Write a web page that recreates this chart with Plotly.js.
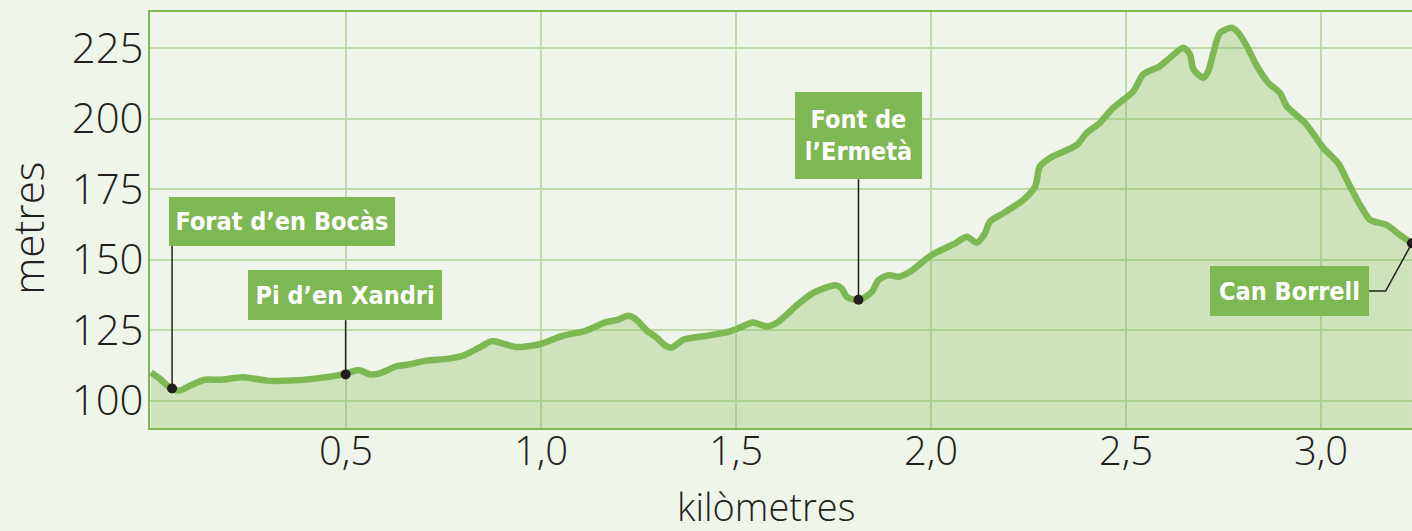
<!DOCTYPE html>
<html>
<head>
<meta charset="utf-8">
<script src="https://cdn.plot.ly/plotly-3.0.1.min.js"></script>
<style>
  html, body { margin: 0; padding: 0; background: #EFF5EA; }
  #chart { width: 1412px; height: 531px; }
</style>
</head>
<body>
<div id="chart"></div>
<script>
// Elevation profile (distance in km, elevation in metres)
const distanceKm = [0, 0.023, 0.053, 0.074, 0.100, 0.138, 0.177, 0.237, 0.297, 0.356, 0.425, 0.499,
  0.532, 0.562, 0.587, 0.630, 0.656, 0.707, 0.758, 0.801, 0.844, 0.874, 0.903, 0.938, 0.997,
  1.053, 1.113, 1.168, 1.198, 1.222, 1.241, 1.271, 1.297, 1.318, 1.335, 1.365, 1.425, 1.485,
  1.510, 1.543, 1.579, 1.608, 1.656, 1.698, 1.754, 1.771, 1.784, 1.814, 1.848, 1.865, 1.891,
  1.916, 1.946, 2.000, 2.062, 2.092, 2.117, 2.138, 2.151, 2.185, 2.237, 2.267, 2.279, 2.305,
  2.374, 2.399, 2.433, 2.467, 2.519, 2.544, 2.587, 2.613, 2.647, 2.664, 2.673, 2.698, 2.711,
  2.724, 2.741, 2.771, 2.788, 2.814, 2.831, 2.865, 2.895, 2.912, 2.959, 2.985, 3.006, 3.044,
  3.066, 3.100, 3.126, 3.168, 3.203, 3.233];
const elevationM = [110.0, 107.7, 104.2, 103.6, 105.3, 107.4, 107.4, 108.3, 107.1, 107.1, 107.9, 109.5,
  110.9, 109.3, 109.7, 112.2, 112.7, 114.2, 114.8, 116.0, 119.0, 121.1, 120.2, 119.0, 120.0,
  122.9, 124.7, 127.9, 128.7, 130.1, 129.1, 124.9, 122.3, 119.6, 118.8, 121.6, 123.0, 124.6,
  125.9, 127.7, 126.3, 127.9, 133.8, 138.2, 140.9, 139.8, 136.8, 135.6, 138.5, 142.7, 144.5,
  143.9, 145.7, 151.5, 155.8, 158.1, 156.0, 159.3, 163.5, 166.4, 171.2, 175.9, 183.0, 186.0,
  190.7, 194.9, 198.5, 203.8, 209.7, 215.7, 218.6, 221.6, 225.1, 222.8, 217.4, 214.5, 216.8,
  223.4, 230.4, 232.2, 230.4, 224.6, 219.8, 212.7, 209.1, 204.4, 198.5, 193.7, 189.6, 184.2,
  178.3, 169.4, 164.1, 162.3, 158.7, 155.8];

// Points of interest
const poiNames = ["Forat d\u2019en Bocàs", "Pi d\u2019en Xandri", "Font de<br>l\u2019Ermetà", "Can Borrell"];
const poiKm = [0.054, 0.499, 1.814, 3.233];
const poiElev = [104.3, 109.3, 135.8, 155.8];

// Tick values
const xTicks = [0.5, 1.0, 1.5, 2.0, 2.5, 3.0];
const yTicks = [100, 125, 150, 175, 200, 225];

const xTitle = 'kilòmetres';
const yTitle = 'metres';

const GREEN = '#7DB853';
const INK = '#231F20';

// Label box layout (position of box in data units, size in px)
const boxLayout = [
  {x: 0.046, y: 154.8, w: 226, h: 49},
  {x: 0.249, y: 128.5, w: 194, h: 50},
  {x: 1.651, y: 178.5, w: 127, h: 87},
  {x: 2.715, y: 130.0, w: 159, h: 50}
];

// Pick an installed narrow bold font for the labels
function hasFont(fam) {
  const c = document.createElement('canvas').getContext('2d');
  const test = 'Forat d\u2019en Bocàs WMmwil10';
  for (const base of ['monospace', 'serif']) {
    c.font = 'bold 40px ' + base;
    const w0 = c.measureText(test).width;
    c.font = 'bold 40px "' + fam + '", ' + base;
    const w1 = c.measureText(test).width;
    if (Math.abs(w0 - w1) > 0.5) return true;
  }
  return false;
}
const candidates = ['Liberation Sans Narrow', 'Arial Narrow', 'DejaVu Sans Condensed',
  'Roboto Condensed', 'Noto Sans Condensed', 'Open Sans Condensed', 'Roboto', 'Liberation Sans'];
let labelFam = 'sans-serif';
for (const f of candidates) { if (hasFont(f)) { labelFam = f; break; } }
const ctx = document.createElement('canvas').getContext('2d');
ctx.font = 'bold 40px "' + labelFam + '", sans-serif';
const refW = ctx.measureText('Forat d\u2019en Bocàs').width;
const labelSize = Math.min(38, Math.floor(40 * 214 / refW));

const traces = [
  {
    x: distanceKm, y: elevationM, type: 'scatter', mode: 'lines',
    line: {color: GREEN, width: 6.5, shape: 'spline', smoothing: 0.7},
    fill: 'tozeroy', fillcolor: 'rgba(125,184,83,0.30)',
    hoverinfo: 'skip', showlegend: false
  },
  {
    x: poiKm, y: poiElev, type: 'scatter', mode: 'markers',
    marker: {color: INK, size: 10}, cliponaxis: false,
    hoverinfo: 'skip', showlegend: false
  }
];

const tickFont = {family: '"Open Sans", "Noto Sans", sans-serif', size: 42, color: INK, weight: 300};
const xTickFont = {family: '"Open Sans", "Noto Sans", sans-serif', size: 40, color: INK, weight: 300};
const xTitleFont = {family: '"Open Sans", "Noto Sans", sans-serif', size: 38, color: INK, weight: 300};

const annotations = poiNames.map((name, i) => ({
  x: boxLayout[i].x, y: boxLayout[i].y, xref: 'x', yref: 'y',
  xanchor: 'left', yanchor: 'bottom',
  text: '<b>' + name + '</b>', showarrow: false,
  bgcolor: GREEN, borderpad: 0, borderwidth: 0,
  width: boxLayout[i].w, height: boxLayout[i].h,
  align: 'center', valign: 'middle',
  font: {family: '"' + labelFam + '", sans-serif', size: labelSize, color: '#FFFFFF'}
}));
// Axis titles
annotations.push({
  text: xTitle, xref: 'paper', yref: 'paper', x: 0.488, y: -0.1863,
  xanchor: 'center', yanchor: 'middle', showarrow: false, font: xTitleFont
});
annotations.push({
  text: yTitle, xref: 'paper', yref: 'paper', x: -0.0967, y: 0.481, textangle: -90,
  xanchor: 'center', yanchor: 'middle', showarrow: false, font: tickFont
});

// Leader lines from label boxes down to the points
const shapes = [0, 1, 2].map(i => ({
  type: 'line', xref: 'x', yref: 'y',
  x0: poiKm[i], x1: poiKm[i], y0: boxLayout[i].y, y1: poiElev[i],
  line: {color: INK, width: 1.5}, layer: 'above'
}));
// Can Borrell: elbow leader from box right edge
const cbBoxRightKm = boxLayout[3].x + boxLayout[3].w / 390;
const cbMidElev = boxLayout[3].y + (boxLayout[3].h / 2) / 2.82;
shapes.push({
  type: 'path', xref: 'x', yref: 'y',
  path: 'M ' + cbBoxRightKm + ',' + cbMidElev + ' L ' + (cbBoxRightKm + 0.043) + ',' + cbMidElev +
        ' L ' + poiKm[3] + ',' + poiElev[3],
  line: {color: INK, width: 1.5}, layer: 'above'
});

const layout = {
  width: 1412, height: 531,
  margin: {l: 150, r: 0, t: 12, b: 103, pad: 0},
  paper_bgcolor: '#EFF5EA', plot_bgcolor: '#EFF5EA',
  separators: ',.',
  showlegend: false,
  xaxis: {
    range: [-0.0026, 3.2333], tickvals: xTicks, tickformat: '.1f',
    showgrid: true, gridcolor: '#BEDBA9', gridwidth: 2,
    zeroline: false, ticks: '', showline: true, linecolor: GREEN, linewidth: 2, mirror: true,
    tickfont: xTickFont, ticklabelstandoff: -13
  },
  yaxis: {
    range: [90.3, 237.8], tickvals: yTicks,
    showgrid: true, gridcolor: '#BEDBA9', gridwidth: 2,
    zeroline: false, ticks: '', showline: true, linecolor: GREEN, linewidth: 2,
    tickfont: tickFont, ticklabelstandoff: -4
  },
  annotations: annotations,
  shapes: shapes
};

Plotly.newPlot('chart', traces, layout, {displayModeBar: false, staticPlot: true});
</script>
</body>
</html>
